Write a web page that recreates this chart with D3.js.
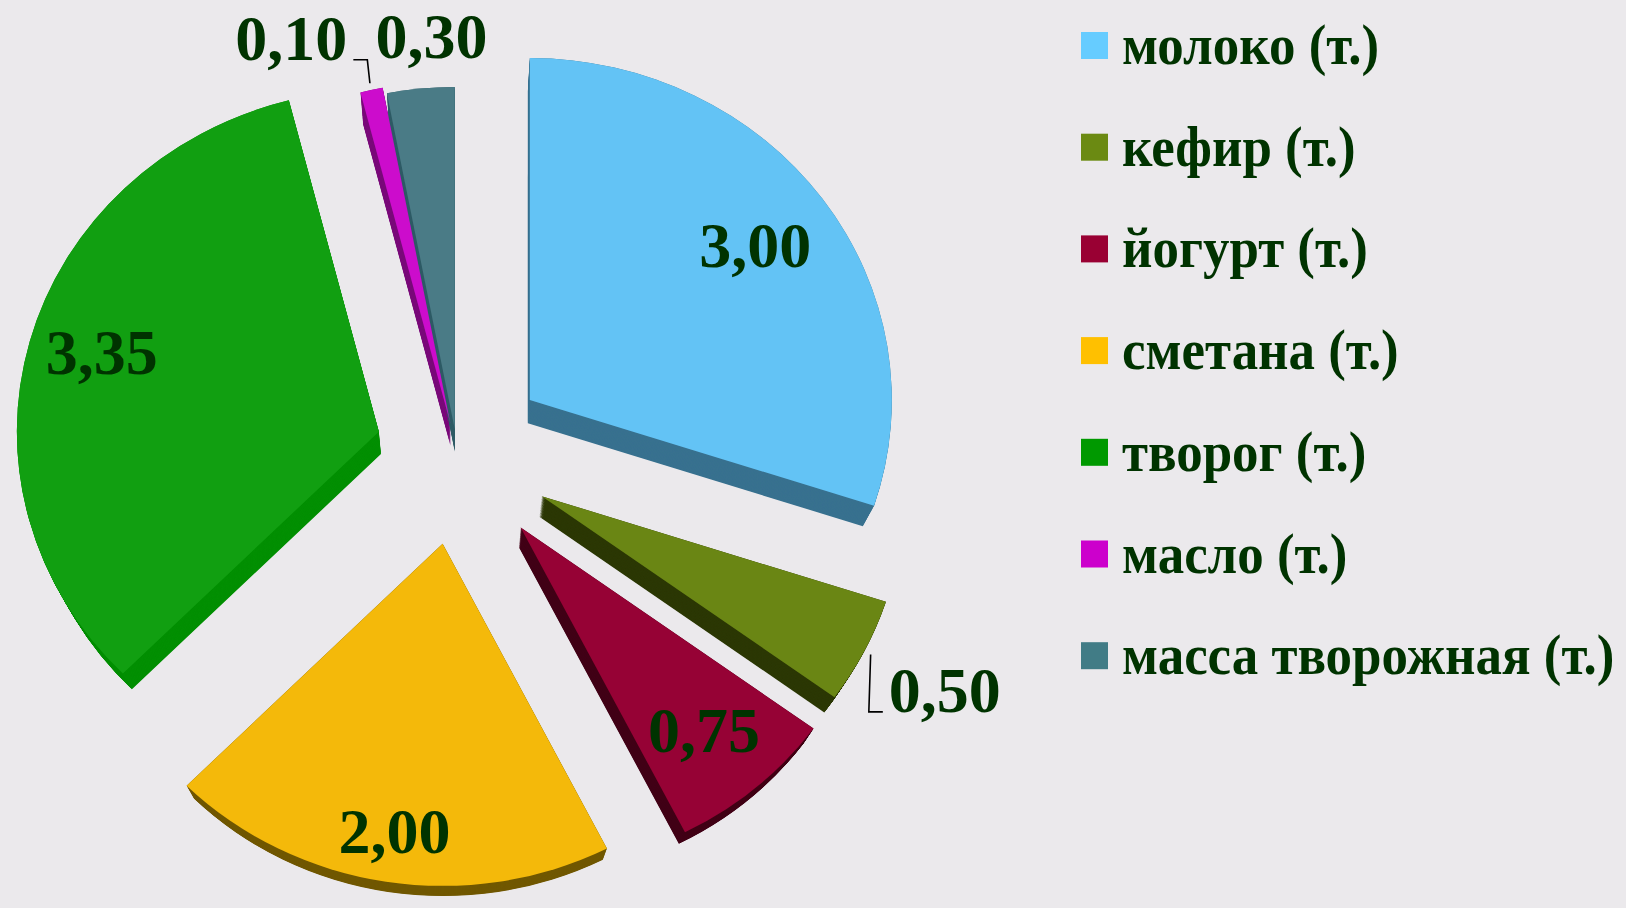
<!DOCTYPE html>
<html>
<head>
<meta charset="utf-8">
<script src="https://cdn.jsdelivr.net/npm/d3@7"></script>
<style>
  html, body { margin: 0; padding: 0; background: #ebe9ec; }
  svg { display: block; }
  text { font-family: 'Liberation Serif', 'Times New Roman', serif; font-weight: bold; fill: #003300; }
</style>
</head>
<body>
<svg class="view" width="1626" height="908"></svg>
<script>
// data
var products = ['молоко (т.)', 'кефир (т.)', 'йогурт (т.)', 'сметана (т.)', 'творог (т.)', 'масло (т.)', 'масса творожная (т.)'];
var tonnes = [3.00, 0.50, 0.75, 2.00, 3.35, 0.10, 0.30];

// look
var topColors = ['#63c3f5', '#6a8614', '#960235', '#f4b90a', '#119f11', '#cc0ccc', '#4a7b86'];
var sideColors = ['#38718f', '#2c3805', '#420017', '#715800', '#038f03', '#7a0a7a', '#2f5c66'];
var keyColors = ['#66ccff', '#6b8a12', '#990033', '#ffc000', '#009900', '#cc00cc', '#417c86'];
var explode = [90, 95, 98, 92, 81, 30, 24];
var labelRadius = [0.77, 1.25, 0.78, 0.85, 0.80, 1.21, 1.15];
var labelNudge = [0, 0, 0, 0, 1.5, -8.7, 2.2];
var leader = [false, true, false, false, false, true, false];

var svg = d3.select('.view'),
    width = +svg.attr('width'),
    height = +svg.attr('height');

var cx = 457, cy = 453, rx = 362, ry = 342;
var vp = [457, 1261], depth = 0.973, steps = 30;
var labelSize = 64, keySize = 56, keySquash = 0.945;

var ru = d3.formatLocale({decimal: ',', thousands: ' ', grouping: [3], currency: ['', '']});
var fmt = ru.format('.2f');

var pie = d3.pie().sort(null).value(function (d) { return d; });
var arc = d3.arc().innerRadius(0).outerRadius(rx);
var slices = pie(tonnes);

function mid(d) {
    return (d.startAngle + d.endAngle) / 2;
}

slices.forEach(function (d, i) {
    var a = mid(d);
    d.ax = cx + explode[i] * Math.sin(a);
    d.ay = cy - explode[i] * Math.cos(a);
});

// shrink toward the vanishing point gives the lower face of the slab
function place(d, f) {
    return 'translate(' + vp[0] + ',' + vp[1] + ') scale(' + f + ') translate(' + (-vp[0]) + ',' + (-vp[1]) + ')' +
        ' translate(' + d.ax + ',' + d.ay + ') scale(1,' + (ry / rx) + ')';
}

function onSlice(d, r, nudge) {
    var a = mid(d) + nudge * Math.PI / 180;
    return [d.ax + r * rx * Math.sin(a), d.ay - r * ry * Math.cos(a)];
}

var sides = svg.append('g').attr('class', 'sides');
slices.forEach(function (d, i) {
    for (var k = 0; k <= steps; k++) {
        var f = depth + (1 - depth) * k / steps;
        sides.append('path')
            .attr('d', arc(d))
            .attr('fill', sideColors[i])
            .attr('transform', place(d, f));
    }
});

svg.append('g')
    .attr('class', 'tops')
    .selectAll('path')
    .data(slices)
    .enter().append('path')
    .attr('d', arc)
    .attr('fill', function (d, i) { return topColors[i]; })
    .attr('transform', function (d) { return place(d, 1); });

// data labels
var labels = svg.append('g').attr('class', 'labels');
var leaders = svg.append('g').attr('class', 'leaders');
slices.forEach(function (d, i) {
    var p = onSlice(d, labelRadius[i], labelNudge[i]);
    var base = p[1] + 0.338 * labelSize;
    var t = labels.append('text')
        .attr('x', p[0])
        .attr('y', base)
        .attr('text-anchor', 'middle')
        .style('font-size', labelSize + 'px')
        .text(fmt(d.value));
    if (leader[i]) {
        var w = t.node().getComputedTextLength();
        var p0 = onSlice(d, 1.02, 0);
        var right = p[0] > p0[0];
        var edge = right ? p[0] - w / 2 : p[0] + w / 2;
        var dir = right ? -1 : 1;
        leaders.append('polyline')
            .attr('points', [p0, [edge + dir * 20, base], [edge + dir * 6, base]].map(function (q) { return q.join(','); }).join(' '))
            .attr('fill', 'none')
            .attr('stroke', '#000')
            .attr('stroke-width', 1.6);
    }
});

// legend
var key = svg.append('g')
    .attr('class', 'legend')
    .attr('transform', 'translate(1081,32)')
    .selectAll('g')
    .data(products)
    .enter().append('g')
    .attr('transform', function (d, i) { return 'translate(0,' + (i * 101.7) + ')'; });

key.append('rect')
    .attr('width', 27)
    .attr('height', 27)
    .attr('fill', function (d, i) { return keyColors[i]; });

key.append('text')
    .attr('transform', 'translate(41,32) scale(' + keySquash + ',1)')
    .style('font-size', keySize + 'px')
    .text(function (d) { return d; });
</script>
</body>
</html>
